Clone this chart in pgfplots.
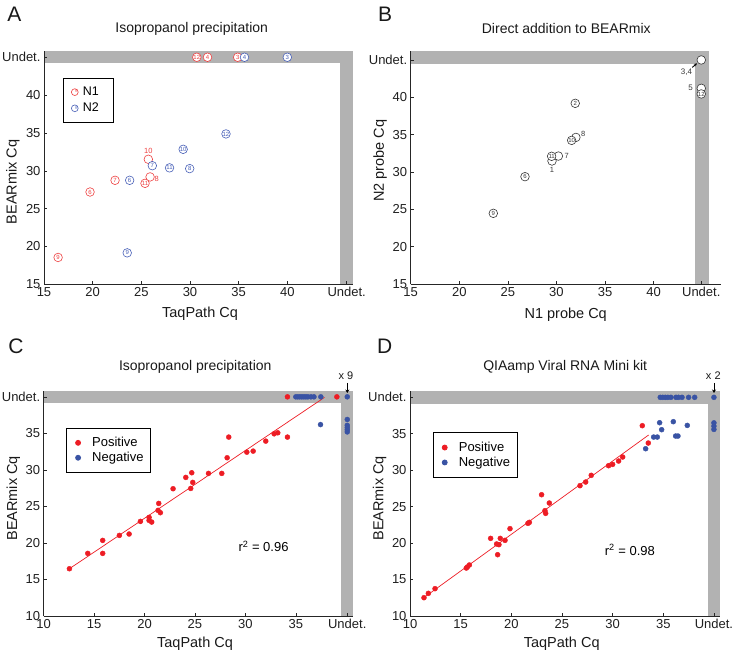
\documentclass[border=0pt]{standalone}
\usepackage{pgfplots}
\pgfplotsset{compat=1.18}
\usepackage{fontspec}
\setmainfont{Liberation Sans}
\usetikzlibrary{arrows.meta}

\definecolor{band}{RGB}{178,178,178}
\definecolor{axisgray}{RGB}{38,38,38}
\definecolor{redA}{RGB}{238,64,64}
\definecolor{blueA}{RGB}{72,96,184}
\definecolor{grayB}{RGB}{55,55,55}
\definecolor{redC}{RGB}{237,28,36}
\definecolor{blueC}{RGB}{57,83,164}

\pgfplotsset{
  panel/.style={
    scale only axis, clip=false, anchor=south west,
    axis x line*=bottom, axis y line*=left,
    axis line style={-, draw=axisgray, line width=0.6pt},
    tick align=inside, major tick length=3pt,
    tick style={draw=axisgray, line width=0.6pt},
    ticklabel style={font=\fontsize{13}{13}\selectfont, text=black!88},
    axis on top,
  },
  circA/.style={only marks, mark=*, mark size=4.3pt,
    mark options={draw=#1, fill=white, line width=0.6pt}},
  lblA/.style={point meta=explicit symbolic, nodes near coords,
    nodes near coords style={anchor=center, inner sep=0pt,
      font=\fontsize{6}{6}\selectfont, text=#1}},
  dots/.style={only marks, mark=*, mark size=2.5pt, color=#1,
    mark options={draw=none, fill=#1},
    legend image code/.code={\path (0pt,0pt) (20pt,0pt);
      \fill[#1] (8.3pt,0pt) circle (2.5pt);}},
  hashleg/.style={legend image code/.code={\path (0pt,0pt) (14pt,0pt);
    \draw[#1, fill=white, line width=0.6pt] (8.3pt,0pt) circle (3.4pt);
    \node[font=\fontsize{4.5}{4.5}\selectfont, text=#1, inner sep=0pt] at (8.3pt,0pt) {\#};}},
  leg/.style={legend style={draw=black, line width=0.8pt,
    font=\fontsize{13}{13}\selectfont, inner xsep=3pt, inner ysep=7.3pt,
    row sep=0pt, cells={anchor=west}}},
}

\begin{document}
\begin{tikzpicture}
\path[use as bounding box] (0pt,0pt) rectangle (733pt,655pt);

% ---------------- Panel A ----------------
\begin{axis}[panel, leg, at={(44pt,371pt)}, width=309pt, height=233pt,
  xmin=15, xmax=46.75, ymin=15, ymax=45.9,
  xtick={15,20,25,30,35,40,46.1}, xticklabels={15,20,25,30,35,40,Undet.},
  ytick={15,20,25,30,35,40,45.07}, yticklabels={15,20,25,30,35,40,Undet.},
  legend style={at={(0.0605,0.885)}, anchor=north west,
    font=\fontsize{12.5}{12.5}\selectfont, inner ysep=6.9pt, row sep=2pt}]
\fill[band] (axis cs:15,44.26) rectangle (axis cs:46.75,45.9);
\fill[band] (axis cs:45.45,15) rectangle (axis cs:46.75,45.9);
\addplot[circA=redA, forget plot] coordinates {(25.9,29.2) (25.72,31.54)};
\addplot[circA=redA, lblA=redA, hashleg=redA]
  table[x index=0, y index=1, meta index=2, header=false] {
16.45 18.52 9
19.73 27.2 6
22.3 28.75 7
25.38 28.35 11
30.7 45.07 12
31.8 45.07 4
34.9 45.07 3
};
\addlegendentry{N1\hspace{9.6pt}\null}
\addplot[circA=blueA, lblA=blueA, hashleg=blueA]
  table[x index=0, y index=1, meta index=2, header=false] {
23.55 19.13 9
23.8 28.75 6
26.13 30.69 7
27.9 30.4 11
29.97 30.3 8
29.3 32.86 10
33.7 34.9 12
35.6 45.07 4
40.0 45.07 3
};
\addlegendentry{N2\hspace{9.6pt}\null}
\node[text=redA, font=\fontsize{7.5}{7.5}\selectfont] at (axis cs:25.72,32.64) {10};
\node[text=redA, font=\fontsize{7.5}{7.5}\selectfont] at (axis cs:26.58,28.95) {8};
\end{axis}

% ---------------- Panel B ----------------
\begin{axis}[panel, at={(410.7pt,371pt)}, width=310pt, height=233pt,
  xmin=15, xmax=46.9, ymin=15, ymax=46.2,
  xtick={15,20,25,30,35,40,44.9}, xticklabels={15,20,25,30,35,40,Undet.},
  ytick={15,20,25,30,35,40,45}, yticklabels={15,20,25,30,35,40,Undet.}]
\fill[band] (axis cs:15,44.45) rectangle (axis cs:45.66,46.2);
\fill[band] (axis cs:44.3,15) rectangle (axis cs:45.66,46.2);
\addplot[circA=grayB] coordinates {(29.54,31.47) (30.2,32.13) (32.0,34.63) (44.9,41.2) (44.9,45.0)};
\addplot[circA=grayB, lblA=grayB]
  table[x index=0, y index=1, meta index=2, header=false] {
23.5 24.46 9
26.76 29.37 6
29.5 32.1 11
31.56 34.23 10
31.93 39.19 2
44.9 40.45 12
};
\node[text=grayB, font=\fontsize{7.5}{7.5}\selectfont] at (axis cs:29.54,30.26) {1};
\node[text=grayB, font=\fontsize{7.5}{7.5}\selectfont] at (axis cs:31.05,32.1) {7};
\node[text=grayB, font=\fontsize{7.5}{7.5}\selectfont] at (axis cs:32.76,35.04) {8};
\node[text=grayB, font=\fontsize{8}{8}\selectfont] at (axis cs:43.8,41.3) {5};
\node[text=grayB, font=\fontsize{8}{8}\selectfont] at (axis cs:43.37,43.4) {3,4};
\draw[-{Stealth[length=3pt,width=3pt]}, black, line width=0.9pt] (axis cs:43.98,44.0) -- (axis cs:44.45,44.55);
\end{axis}

% ---------------- Panel C ----------------
\begin{axis}[panel, leg, at={(43.7pt,39pt)}, width=309.6pt, height=225pt,
  xmin=10, xmax=40.7, ymin=10, ymax=40.8,
  xtick={10,15,20,25,30,35,40.1}, xticklabels={10,15,20,25,30,35,Undet.},
  ytick={10,15,20,25,30,35,40}, yticklabels={10,15,20,25,30,35,Undet.},
  legend style={at={(0.072,0.837)}, anchor=north west}]
\fill[band] (axis cs:10,39.1) rectangle (axis cs:40.7,40.8);
\fill[band] (axis cs:39.46,10) rectangle (axis cs:40.7,40.8);
\addplot[redC, line width=0.7pt, forget plot] coordinates {(12.55,16.47) (37.84,39.92)};
\addplot[dots=redC] coordinates {
(12.55,16.47) (14.37,18.57) (15.85,20.35) (15.85,18.57) (17.5,21.03)
(18.47,21.22) (19.59,22.95) (20.45,23.5) (20.45,23.09) (20.71,22.86)
(21.41,25.41) (21.34,24.46) (21.57,24.14) (22.83,27.42) (24.09,28.97)
(24.58,27.46) (24.68,29.61) (24.78,28.29) (26.34,29.52) (27.66,29.52)
(28.19,31.66) (28.35,34.49) (30.14,32.43) (30.77,32.57) (32.02,33.94)
(32.85,34.94) (33.21,35.08) (34.17,34.49) (34.17,40.0) (39.07,40.0)
};
\addlegendentry{Positive}
\addplot[dots=blueC] coordinates {
(37.45,36.2)
(35.0,40) (35.2,40) (35.4,40) (35.6,40) (35.8,40) (36.0,40) (36.2,40) (36.5,40) (36.8,40)
(37.48,40) (40.1,40)
(40.1,36.9) (40.1,36.1) (40.1,35.8) (40.1,35.5) (40.1,35.2)
};
\addlegendentry{Negative\hspace{2pt}\null}
\node[font=\fontsize{13}{13}\selectfont] at (axis cs:31.8,19.5) {r\textsuperscript{2} = 0.96};
\end{axis}

% ---------------- Panel D ----------------
\begin{axis}[panel, leg, at={(410pt,39pt)}, width=310pt, height=225pt,
  xmin=10, xmax=40.6, ymin=10, ymax=40.87,
  xtick={10,15,20,25,30,35,40}, xticklabels={10,15,20,25,30,35,Undet.},
  ytick={10,15,20,25,30,35,40}, yticklabels={10,15,20,25,30,35,Undet.},
  legend style={at={(0.073,0.816)}, anchor=north west}]
\fill[band] (axis cs:10,39.13) rectangle (axis cs:40.6,40.87);
\fill[band] (axis cs:39.37,10) rectangle (axis cs:40.6,40.87);
\addplot[redC, line width=0.7pt, forget plot] coordinates {(11.4,12.55) (33.55,34.83)};
\addplot[dots=redC] coordinates {
(11.38,12.51) (11.81,13.11) (12.47,13.75) (15.56,16.58) (15.66,16.72)
(15.86,17.0) (17.96,20.65) (18.55,19.88) (18.78,19.79) (18.65,18.41)
(18.91,20.65) (19.38,20.38) (19.87,21.98) (21.64,22.71) (21.78,22.85)
(22.99,26.64) (23.32,24.45) (23.39,24.08) (23.75,25.5) (26.78,27.88)
(27.34,28.38) (27.89,29.3) (29.6,30.62) (30.0,30.8) (30.59,31.26)
(30.99,31.81) (32.93,36.11) (33.52,33.73)
};
\addlegendentry{Positive}
\addplot[dots=blueC] coordinates {
(33.26,32.95) (34.64,36.52) (34.84,35.56) (34.05,34.55) (34.41,34.55)
(35.99,36.66) (36.22,34.69) (36.45,34.69) (37.37,36.15)
(34.7,40) (34.95,40) (35.2,40) (35.45,40) (35.75,40) (36.25,40) (36.5,40) (36.85,40)
(37.5,40) (38.1,40) (40.0,40)
(40.0,36.5) (40.0,36.05) (40.0,35.6)
};
\addlegendentry{Negative\hspace{2pt}\null}
\node[font=\fontsize{13}{13}\selectfont] at (axis cs:31.7,19.05) {r\textsuperscript{2} = 0.98};
\end{axis}

% ---------------- Titles, labels, panel letters ----------------
\begin{scope}[every node/.style={text=black!90}]
\node[font=\fontsize{21}{21}\selectfont] at (14.5pt,640.5pt) {A};
\node[font=\fontsize{21}{21}\selectfont] at (385pt,641pt) {B};
\node[font=\fontsize{21}{21}\selectfont] at (16pt,308.3pt) {C};
\node[font=\fontsize{21}{21}\selectfont] at (384.7pt,308.3pt) {D};

\node[font=\fontsize{14}{14}\selectfont] at (191.7pt,626pt) {Isopropanol precipitation};
\node[font=\fontsize{14}{14}\selectfont] at (566.3pt,626pt) {Direct addition to BEARmix};
\node[font=\fontsize{14}{14}\selectfont] at (195.3pt,288.3pt) {Isopropanol precipitation};
\node[font=\fontsize{14}{14}\selectfont] at (565.2pt,288.3pt) {QIAamp Viral RNA Mini kit};

\node[font=\fontsize{14.5}{14.5}\selectfont] at (200pt,341.7pt) {TaqPath Cq};
\node[font=\fontsize{14.5}{14.5}\selectfont] at (565.7pt,340pt) {N1 probe Cq};
\node[font=\fontsize{14.5}{14.5}\selectfont] at (195pt,11.7pt) {TaqPath Cq};
\node[font=\fontsize{14.5}{14.5}\selectfont] at (561.7pt,11.7pt) {TaqPath Cq};

\node[font=\fontsize{14.5}{14.5}\selectfont, rotate=90] at (13pt,473pt) {BEARmix Cq};
\node[font=\fontsize{14.5}{14.5}\selectfont, rotate=90] at (380pt,494.3pt) {N2 probe Cq};
\node[font=\fontsize{14.5}{14.5}\selectfont, rotate=90] at (13.3pt,156.7pt) {BEARmix Cq};
\node[font=\fontsize{14.5}{14.5}\selectfont, rotate=90] at (379.7pt,156.7pt) {BEARmix Cq};

\node[font=\fontsize{11}{11}\selectfont] at (346pt,279pt) {x 9};
\draw[-{Stealth[length=3.5pt,width=4pt]}, black, line width=0.8pt] (347.3pt,272pt) -- (347.3pt,262pt);
\node[font=\fontsize{11}{11}\selectfont] at (713.3pt,279pt) {x 2};
\draw[-{Stealth[length=3.5pt,width=4pt]}, black, line width=0.8pt] (714pt,272pt) -- (714pt,262pt);
\end{scope}
\end{tikzpicture}
\end{document}
